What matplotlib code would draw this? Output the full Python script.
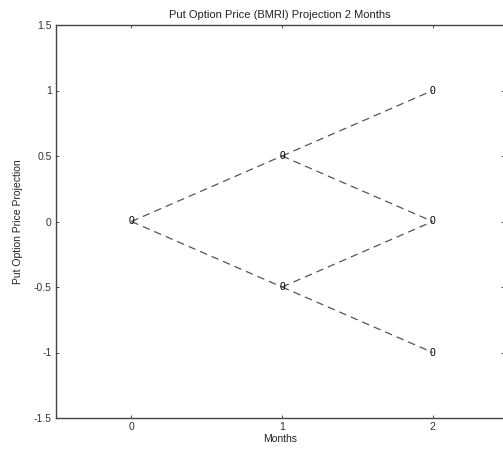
import matplotlib
matplotlib.use("Agg")
import matplotlib.pyplot as plt

# Binomial tree nodes (month, projection value) and put option prices
months = [0, 1, 1, 2, 2, 2]
levels = [0, 0.5, -0.5, 1, 0, -1]
prices = [0, 0, 0, 0, 0, 0]
# edges as (from index, to index)
edges = [(0, 1), (0, 2), (1, 3), (1, 4), (2, 4), (2, 5)]

xticks = [0, 1, 2]
yticks = [-1.5, -1, -0.5, 0, 0.5, 1, 1.5]
ytick_labels = ["-1.5", "-1", "-0.5", "0", "0.5", "1", "1.5"]

plt.rcParams['font.family'] = ['Liberation Sans', 'DejaVu Sans']

W, H = 503, 450
fig = plt.figure(figsize=(W / 100, H / 100), dpi=100)
left, right, top, bottom = 56, 503.5, 25, 418
ax = fig.add_axes([left / W, (H - bottom) / H, (right - left) / W, (bottom - top) / H])

for a, b in edges:
    ax.plot([months[a], months[b]], [levels[a], levels[b]],
            color='#555555', linestyle=(0, (6, 4)), linewidth=0.9)

for x, y, p in zip(months, levels, prices):
    ax.text(x, y, str(p), ha='center', va='center', fontsize=7.5, color='black')

ax.set_xlim(-0.5, 2.47)
ax.set_ylim(-1.5, 1.5)
ax.set_xticks(xticks)
ax.set_yticks(yticks)
ax.set_yticklabels(ytick_labels)
ax.tick_params(direction='in', length=2.5, width=0.6, labelsize=7.5, colors='#333333',
               top=True, right=True, pad=3)
for s in ax.spines.values():
    s.set_color('#444444')
    s.set_linewidth(1.0)

ax.set_title("Put Option Price (BMRI) Projection 2 Months", fontsize=8, color='#222222', pad=5)
ax.set_xlabel("Months", fontsize=7.5, color='#222222', labelpad=1)
ax.set_ylabel("Put Option Price Projection", fontsize=7.5, color='#222222', labelpad=8)

fig.savefig("out.png", dpi=100)
